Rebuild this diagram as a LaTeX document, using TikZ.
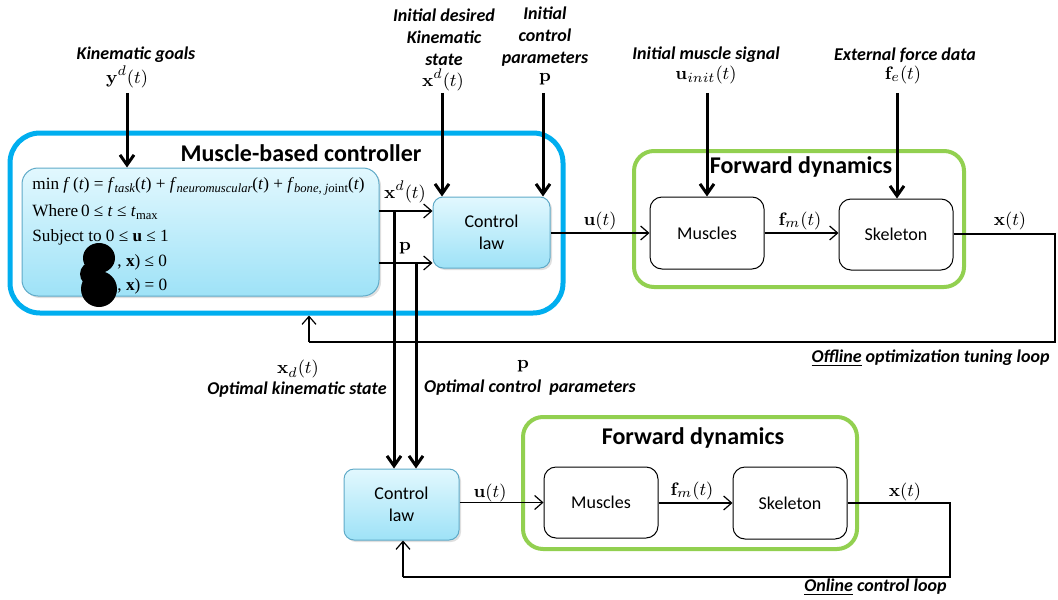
\documentclass[tikz,border=0pt]{standalone}
\usepackage[no-math]{fontspec}
\setmainfont{Carlito}
\newfontfamily\tnr{Liberation Serif}
\usetikzlibrary{arrows.meta,shadows}
\definecolor{bluebox}{RGB}{0,174,239}
\definecolor{greenbox}{RGB}{146,208,80}
\definecolor{cltop}{RGB}{226,248,254}
\definecolor{clbot}{RGB}{158,226,247}
\definecolor{clborder}{RGB}{95,170,200}
\newcommand\ii[1]{\textit{#1}}
\newcommand\sbs[1]{\raisebox{-0.4ex}{\fontsize{6.3}{7}\selectfont #1}}
\begin{document}
\begin{tikzpicture}[x=0.5pt,y=-0.5pt,
  lbl/.style={font=\fontsize{9}{11}\selectfont\bfseries\itshape, align=center, inner sep=0},
  mth/.style={font=\fontsize{9.5}{11}\selectfont, inner sep=0},
  ttl/.style={font=\fontsize{12}{14}\selectfont\bfseries, inner sep=0},
  blk/.style={draw, line width=0.5pt, rounded corners=6pt, font=\fontsize{9}{11}\selectfont, inner sep=0, align=center},
  clbox/.style={draw=clborder, line width=0.5pt, top color=cltop, bottom color=clbot, rounded corners=5pt,
     drop shadow={opacity=0.25, shadow xshift=1pt, shadow yshift=-1pt},
     font=\fontsize{9}{11}\selectfont, inner sep=0, align=center},
  frm/.style={font=\tnr\fontsize{8.6}{10}\selectfont, inner sep=0, anchor=west},
  big/.style={line width=1.5pt, -{Straight Barb[length=5pt,width=7pt,line width=1.5pt]}},
  thin/.style={line width=0.6pt, -{Straight Barb[length=4pt,width=7pt,line width=0.6pt]}},
  line/.style={line width=0.6pt}
]
\useasboundingbox (0,0) rectangle (1058,599);

% ---- containers
\node (ctrl) [draw=bluebox, line width=2.5pt, rounded corners=15pt, minimum width=276.5pt, minimum height=90pt, inner sep=0] at (286.5,223) {};
\node (fd1) [draw=greenbox, line width=2pt, rounded corners=10pt, minimum width=165pt, minimum height=68pt, inner sep=0] at (799,219) {};
\node (fd2) [draw=greenbox, line width=2pt, rounded corners=10pt, minimum width=167pt, minimum height=66pt, inner sep=0] at (690,483) {};
\node[ttl] (t1) at (301,153) {Muscle-based controller};
\node[ttl] (t2) at (801,167) {Forward dynamics};
\node[ttl] (t3) at (693,438) {Forward dynamics};

% ---- optimisation box
\node (opt) [draw=clborder, line width=0.5pt, top color=cltop, bottom color=clbot, rounded corners=8pt,
   drop shadow={opacity=0.25, shadow xshift=1pt, shadow yshift=-1pt},
   minimum width=178.5pt, minimum height=64pt, inner sep=0] at (200.5,232) {};
\node[frm] (r1) at (32,186) {min \ii{f}\,(\ii{t}) = \ii{f}\sbs{\itshape task}(\ii{t}) + \ii{f}\sbs{\itshape neuromuscular}(\ii{t}) + \ii{f}\sbs{\itshape bone, jo{\upshape int}}(\ii{t})};
\node[frm] (r2) at (32,212) {Where\,0 ≤ \ii{t} ≤ \ii{t}\sbs{max}};
\node[frm] (r3) at (32,237) {Subject to 0 ≤ \textbf{u} ≤ 1};
\fill (99,258) ellipse [x radius=16, y radius=15];
\fill (99,289) ellipse [x radius=18, y radius=18];
\fill (92,274) ellipse [x radius=12, y radius=12];
\node[frm] (r4) at (117,262) {, \textbf{x}) ≤ 0};
\node[frm] (r5) at (117,286) {, \textbf{x}) = 0};

% ---- blocks
\node[clbox, minimum width=58.5pt, minimum height=35.5pt] (cl1) at (491.5,232.5) {Control\\law};
\node[blk, minimum width=57pt, minimum height=36pt] (m1) at (707,233) {Muscles};
\node[blk, minimum width=57pt, minimum height=35.5pt] (s1) at (896,234.5) {Skeleton};
\node[clbox, minimum width=57.5pt, minimum height=35.5pt] (cl2) at (401.5,504.5) {Control\\law};
\node[blk, minimum width=57pt, minimum height=35.5pt] (m2) at (601,502.5) {Muscles};
\node[blk, minimum width=57pt, minimum height=36pt] (s2) at (790,503) {Skeleton};

% ---- top inputs
\node[lbl] (kg) at (136,55) {Kinematic goals};
\node[mth] (yd) at (127,77) {$\mathbf{y}^d(t)$};
\node[lbl] (ids) at (444,37) {Initial desired\\Kinematic\\state};
\node[mth] (xd0) at (443,80) {$\mathbf{x}^d(t)$};
\node[lbl] (icp) at (545,37) {Initial\\control\\parameters};
\node[mth] (p0) at (545,79) {$\mathbf{p}$};
\node[lbl] (ims) at (706,55) {Initial muscle signal};
\node[mth] (ui) at (706,75) {$\mathbf{u}_{init}(t)$};
\node[lbl] (efd) at (905,55) {External force data};
\node[mth] (fe) at (903,75) {$\mathbf{f}_e(t)$};

\coordinate (a1) at (127,93);
\coordinate (a2) at (442,93);
\coordinate (a3) at (543,93);
\coordinate (a4) at (707,93);
\coordinate (a5) at (897,93);
\draw[big] (a1) -- (a1 |- opt.north);
\draw[big] (a2) -- (a2 |- cl1.north);
\draw[big] (a3) -- (a3 |- cl1.north);
\draw[big] (a4) -- (a4 |- m1.north);
\draw[big] (a5) -- (a5 |- s1.north);

% ---- upper signal flow
\coordinate (xdy) at (379,211);
\coordinate (py) at (379,263);
\draw[thin] (xdy) -- (xdy -| cl1.west);
\draw[thin] (py) -- (py -| cl1.west);
\node[mth] (xdl) at (405,192) {$\mathbf{x}^d(t)$};
\node[mth] (pl) at (405,248) {$\mathbf{p}$};
\draw[thin] (cl1.east |- m1.west) -- (m1.west);
\node[mth] (ul1) at (600,221) {$\mathbf{u}(t)$};
\draw[thin] (m1.east) -- (m1.east -| s1.west);
\node[mth] (fml1) at (800,221) {$\mathbf{f}_m(t)$};
\node[mth] (xl1) at (1010,221) {$\mathbf{x}(t)$};
\coordinate (off1) at (1055,234);
\coordinate (off2) at (1055,342);
\coordinate (off3) at (309,342);
\draw[line] (s1.east |- off1) -- (off1) -- (off2) -- (off3);
\draw[thin] (off3) -- (off3 |- ctrl.south);
\node[lbl, anchor=east] (offl) at (1050,358) {\underline{Offline} optimization tuning loop};

% ---- drop-down connections
\coordinate (v1) at (394,211);
\coordinate (v2) at (416,263);
\draw[big] (v1) -- (v1 |- cl2.north);
\draw[big] (v2) -- (v2 |- cl2.north);
\node[mth] (xdd) at (298,369) {$\mathbf{x}_d(t)$};
\node[lbl] (oks) at (297,390) {Optimal kinematic state};
\node[mth] (pp) at (523,366) {$\mathbf{p}$};
\node[lbl] (ocp) at (530,388) {Optimal control\ \ parameters};

% ---- lower loop
\draw[thin] (cl2.east |- m2.west) -- (m2.west);
\node[mth] (ul2) at (490,493) {$\mathbf{u}(t)$};
\draw[thin] (m2.east |- s2.west) -- (s2.west);
\node[mth] (fml2) at (692,491) {$\mathbf{f}_m(t)$};
\node[mth] (xl2) at (905,492) {$\mathbf{x}(t)$};
\coordinate (on1) at (950,503);
\coordinate (on2) at (950,577);
\coordinate (on3) at (403,577);
\draw[line] (s2.east) -- (on1) -- (on2) -- (on3);
\draw[thin] (on3) -- (on3 |- cl2.south);
\node[lbl, anchor=east] (onl) at (947,587) {\underline{Online} control loop};
\end{tikzpicture}
\end{document}
